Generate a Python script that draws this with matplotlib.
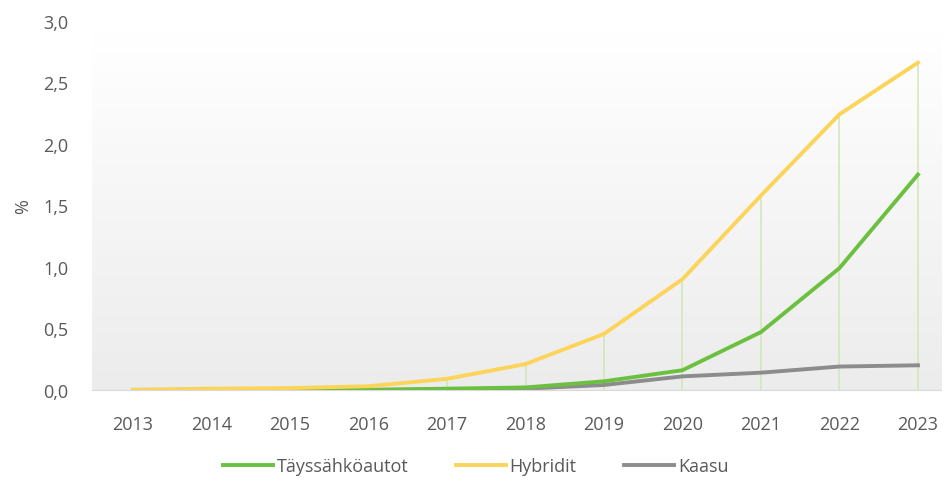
import numpy as np
import matplotlib
matplotlib.use("Agg")
import matplotlib.pyplot as plt

# data
years = [2013, 2014, 2015, 2016, 2017, 2018, 2019, 2020, 2021, 2022, 2023]
tayssahko = [0.0, 0.0, 0.0, 0.0, 0.01, 0.02, 0.07, 0.16, 0.47, 0.99, 1.75]
hybridit = [0.0, 0.01, 0.015, 0.03, 0.09, 0.21, 0.455, 0.9, 1.58, 2.24, 2.66]
kaasu = [0.0, 0.0, 0.0, 0.0, 0.005, 0.01, 0.04, 0.11, 0.14, 0.19, 0.2]
yticks = [0.0, 0.5, 1.0, 1.5, 2.0, 2.5, 3.0]

green = "#6cc040"
yellow = "#fdd45a"
gray = "#8c8c8c"
txt = "#595959"

plt.rcParams['font.family'] = ['Open Sans', 'DejaVu Sans']

fig = plt.figure(figsize=(9.51, 4.85), dpi=100)
ax = fig.add_axes([0.097, 0.194, 0.893, 0.761])

x = np.arange(len(years))
xmin, xmax = -0.52, len(years) - 0.7

# gradient background (white top -> light gray bottom)
grad = np.linspace(1.0, 0.0, 256).reshape(-1, 1)
cmap = matplotlib.colors.LinearSegmentedColormap.from_list('g', ['#ececec', '#ffffff'])
ax.imshow(grad, extent=[xmin, xmax, 0, 2.9], aspect='auto', cmap=cmap,
          zorder=0, origin='upper')
ax.set_xlim(xmin, xmax)
ax.set_ylim(0, 3.0)

# drop lines
top = np.maximum.reduce([tayssahko, hybridit, kaasu])
ax.vlines(x, 0, top, color="#cfe6b8", lw=1.1, zorder=1)

ax.plot(x, kaasu, color=gray, lw=2.8, zorder=2, label="Kaasu")
ax.plot(x, tayssahko, color=green, lw=2.8, zorder=3, label="Täyssähköautot")
ax.plot(x, hybridit, color=yellow, lw=2.8, zorder=4, label="Hybridit")

ax.set_xticks(x)
ax.set_xticklabels([str(y) for y in years])
ax.set_yticks(yticks)
ax.set_yticklabels([f"{v:.1f}".replace(".", ",") for v in yticks])
ax.tick_params(axis='both', length=0, colors=txt, labelsize=13)
ax.tick_params(axis='x', pad=18)
ax.tick_params(axis='y', pad=17)

for s in ['top', 'right', 'left']:
    ax.spines[s].set_visible(False)
ax.spines['bottom'].set_color('#d9d9d9')

ax.set_ylabel("%", color=txt, fontsize=13, labelpad=8)

h, l = ax.get_legend_handles_labels()
order = [1, 2, 0]
fig.legend([h[i] for i in order], [l[i] for i in order], loc='lower center',
           bbox_to_anchor=(0.5, -0.015), ncol=3, frameon=False, fontsize=13,
           labelcolor=txt, handlelength=2.8, handletextpad=0.2, columnspacing=2.6)

fig.savefig("out.png", dpi=100)
